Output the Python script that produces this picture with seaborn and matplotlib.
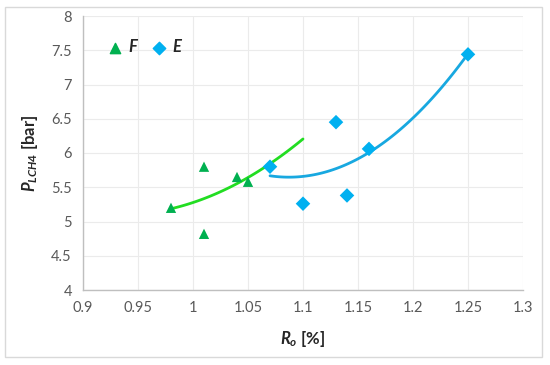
import numpy as np
import pandas as pd
import matplotlib
matplotlib.use("Agg")
import matplotlib.pyplot as plt
import seaborn as sns
from matplotlib.patches import Rectangle

# Data
f_ro = [0.98, 1.01, 1.01, 1.04, 1.05]
f_p = [5.20, 5.80, 4.82, 5.65, 5.58]
e_ro = [1.07, 1.10, 1.13, 1.14, 1.16, 1.25]
e_p = [5.80, 5.26, 6.45, 5.38, 6.06, 7.44]
x_ticks = [0.9, 0.95, 1.0, 1.05, 1.1, 1.15, 1.2, 1.25, 1.3]
x_tick_labels = ["0.9", "0.95", "1", "1.05", "1.1", "1.15", "1.2", "1.25", "1.3"]
y_ticks = [4, 4.5, 5, 5.5, 6, 6.5, 7, 7.5, 8]
y_tick_labels = ["4", "4.5", "5", "5.5", "6", "6.5", "7", "7.5", "8"]
f_trend_range = [0.98, 1.10]
e_trend_range = [1.07, 1.25]

sns.set_theme(style="white")
plt.rcParams["font.family"] = ["Lato", "DejaVu Sans"]
plt.rcParams["mathtext.fontset"] = "custom"
plt.rcParams["mathtext.it"] = "Lato:italic:bold"
plt.rcParams["mathtext.rm"] = "Lato:bold"
plt.rcParams["mathtext.bf"] = "Lato:bold"

fig = plt.figure(figsize=(5.5, 3.65), dpi=100)
ax = fig.add_axes([83 / 550, 1 - 290 / 365, 440 / 550, 274 / 365])

df = pd.concat([
    pd.DataFrame({"Ro": f_ro, "P": f_p, "grp": "F"}),
    pd.DataFrame({"Ro": e_ro, "P": e_p, "grp": "E"}),
])

green_m = "#00B050"
green_l = "#22DD22"
blue_m = "#00B0F0"
blue_l = "#18A8E0"

# Trend lines (2nd-order polynomial fits)
cf = np.polyfit(f_ro, f_p, 2)
xf = np.linspace(*f_trend_range, 100)
ax.plot(xf, np.polyval(cf, xf), color=green_l, lw=2, zorder=2)
ce = np.polyfit(e_ro, e_p, 2)
xe = np.linspace(*e_trend_range, 100)
ax.plot(xe, np.polyval(ce, xe), color=blue_l, lw=2, zorder=2)

sns.scatterplot(data=df, x="Ro", y="P", hue="grp", style="grp",
                markers={"F": "^", "E": "D"},
                palette={"F": green_m, "E": blue_m},
                s=55, edgecolor="none", ax=ax, legend=False, zorder=3)

ax.set_xlim(0.9, 1.3)
ax.set_ylim(4, 8)
ax.set_xticks(x_ticks)
ax.set_xticklabels(x_tick_labels)
ax.set_yticks(y_ticks)
ax.set_yticklabels(y_tick_labels)
ax.tick_params(axis="both", labelsize=10.5, colors="#595959", length=0, pad=8)
ax.grid(True, color="#EBEBEB", lw=0.8)
for s in ["top", "right"]:
    ax.spines[s].set_visible(False)
for s in ["left", "bottom"]:
    ax.spines[s].set_color("#BFBFBF")
    ax.spines[s].set_linewidth(1)

ax.set_xlabel(r"$R_o$ [%]", fontsize=12, fontweight="bold",
              color="#262626", labelpad=10)
ax.set_ylabel(r"$P_{LCH4}$ [bar]", fontsize=12, fontweight="bold",
              color="#262626", labelpad=8)

# Legend (top-left, inside)
h1 = ax.scatter([], [], marker="^", color=green_m, s=55)
h2 = ax.scatter([], [], marker="D", color=blue_m, s=40)
leg = ax.legend([h1, h2], ["F", "E"], loc="upper left", bbox_to_anchor=(0.02, 0.97),
                ncol=2, frameon=False, handlelength=1.0, handletextpad=0.3,
                columnspacing=0.8,
                prop={"weight": "bold", "style": "italic", "size": 12})

fig.patches.append(Rectangle((5 / 550, 1 - 357 / 365), 537 / 550, 350 / 365,
                             transform=fig.transFigure, fill=False,
                             edgecolor="#D9D9D9", lw=1))

fig.savefig("out.png", dpi=100)
